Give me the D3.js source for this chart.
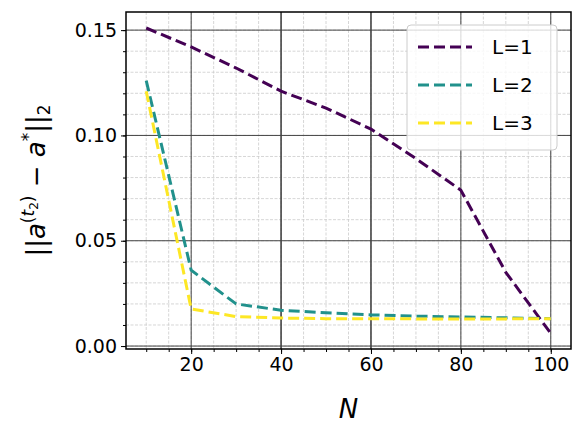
<!DOCTYPE html>
<html><head><meta charset="utf-8">
<script src="https://cdn.jsdelivr.net/npm/d3@7"></script>
<style>body{margin:0;background:#fff}text{font-family:"DejaVu Sans",sans-serif}</style>
</head><body><svg width="587" height="437"></svg>
<script>
const xs = [10, 20, 30, 40, 50, 60, 70, 80, 90, 100];
const l1 = [0.151, 0.142, 0.132, 0.121, 0.113, 0.103, 0.089, 0.074, 0.035, 0.006];
const l2 = [0.126, 0.036, 0.020, 0.017, 0.0158, 0.0148, 0.0142, 0.0138, 0.0134, 0.013];
const l3 = [0.121, 0.0176, 0.014, 0.0133, 0.013, 0.013, 0.0129, 0.0129, 0.0129, 0.013];
const names = ["L=1", "L=2", "L=3"];
const colors = ["#440154", "#21918c", "#fde725"];
const xTicks = [20, 40, 60, 80, 100];
const yTicks = [0, 0.05, 0.10, 0.15];

const svg = d3.select("svg");
const pLeft = 126, pRight = 571, pTop = 12, pBottom = 349;
const x = d3.scaleLinear().domain([5.5, 104.5]).range([pLeft, pRight]);
const y = d3.scaleLinear().domain([-0.0014, 0.1586]).range([pBottom, pTop]);

// minor grid
const xMinor = d3.range(10, 105, 5);
const yMinor = d3.range(0, 0.16, 0.01);
svg.append("g").selectAll("line").data(xMinor).join("line")
  .attr("x1", d => x(d)).attr("x2", d => x(d)).attr("y1", pTop).attr("y2", pBottom)
  .attr("stroke", "#ccc").attr("stroke-width", 0.8).attr("stroke-dasharray", "3,1.5");
svg.append("g").selectAll("line").data(yMinor).join("line")
  .attr("y1", d => y(d)).attr("y2", d => y(d)).attr("x1", pLeft).attr("x2", pRight)
  .attr("stroke", "#ccc").attr("stroke-width", 0.8).attr("stroke-dasharray", "3,1.5");
// major grid
svg.append("g").selectAll("line").data(xTicks).join("line")
  .attr("x1", d => x(d)).attr("x2", d => x(d)).attr("y1", pTop).attr("y2", pBottom)
  .attr("stroke", "#444").attr("stroke-width", d => (d === 40 || d === 60) ? 1.6 : 1);
svg.append("g").selectAll("line").data(yTicks).join("line")
  .attr("y1", d => y(d)).attr("y2", d => y(d)).attr("x1", pLeft).attr("x2", pRight)
  .attr("stroke", "#444").attr("stroke-width", 1);

// axes
svg.append("g").attr("transform", `translate(0,${pBottom})`)
  .call(d3.axisBottom(x).tickValues(xTicks).tickSize(5).tickPadding(4).tickFormat(d3.format("d")));
svg.append("g").attr("transform", `translate(0,${pBottom})`)
  .call(d3.axisBottom(x).tickValues(xMinor).tickSize(3).tickFormat(""));
svg.append("g").attr("transform", `translate(${pLeft},0)`)
  .call(d3.axisLeft(y).tickValues(yTicks).tickSize(5).tickPadding(4).tickFormat(d3.format(".2f")));
svg.append("g").attr("transform", `translate(${pLeft},0)`)
  .call(d3.axisLeft(y).tickValues(yMinor).tickSize(3).tickFormat(""));
svg.selectAll(".domain").remove();
svg.selectAll(".tick line").attr("stroke", "#000");
svg.selectAll(".tick text").attr("font-size", 19).attr("fill", "#000");

// series
const line = d3.line().x((d, i) => x(xs[i])).y(d => y(d));
[l1, l2, l3].forEach((s, i) => {
  svg.append("path").datum(s).attr("d", line).attr("fill", "none")
    .attr("stroke", colors[i]).attr("stroke-width", 3).attr("stroke-dasharray", "11,5");
});

// frame
svg.append("rect").attr("x", pLeft).attr("y", pTop).attr("width", pRight - pLeft).attr("height", pBottom - pTop)
  .attr("fill", "none").attr("stroke", "#000").attr("stroke-width", 1.5);

// legend
const lg = svg.append("g");
lg.append("rect").attr("x", 407).attr("y", 25).attr("width", 150).attr("height", 125).attr("rx", 4)
  .attr("fill", "#fff").attr("fill-opacity", 0.8).attr("stroke", "#ccc");
names.forEach((n, i) => {
  const yy = 47 + i * 38;
  lg.append("line").attr("x1", 418).attr("x2", 472).attr("y1", yy).attr("y2", yy)
    .attr("stroke", colors[i]).attr("stroke-width", 3).attr("stroke-dasharray", "11,5");
  lg.append("text").attr("x", 492).attr("y", yy + 7).attr("font-size", 20).text(n);
});

// axis labels
svg.append("text").attr("x", (pLeft + pRight) / 2).attr("y", 418).attr("text-anchor", "middle")
  .attr("font-size", 26).attr("font-style", "italic").text("N");
const yl = svg.append("text").attr("transform", `translate(45,${(pTop + pBottom) / 2}) rotate(-90)`)
  .attr("text-anchor", "middle").attr("font-size", 26);
yl.append("tspan").text("||");
yl.append("tspan").attr("font-style", "italic").text("a");
yl.append("tspan").attr("font-size", 17).attr("dy", -11).text("(");
yl.append("tspan").attr("font-size", 17).attr("font-style", "italic").text("t");
yl.append("tspan").attr("font-size", 12).attr("dy", 4).text("2");
yl.append("tspan").attr("font-size", 17).attr("dy", -4).text(")");
yl.append("tspan").attr("dy", 11).text(" − ");
yl.append("tspan").attr("font-style", "italic").text("a");
yl.append("tspan").attr("font-size", 17).attr("dy", -11).text("*");
yl.append("tspan").attr("dy", 11).text("||");
yl.append("tspan").attr("font-size", 17).attr("dy", 5).text("2");
</script></body></html>
